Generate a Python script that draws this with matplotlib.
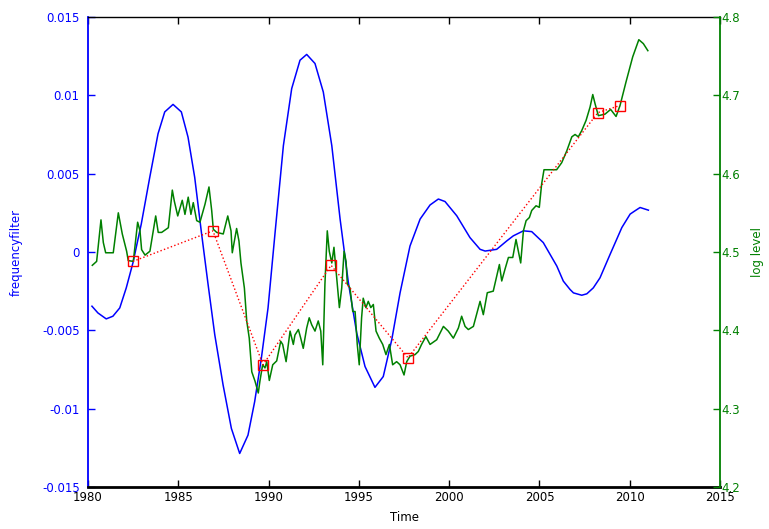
import matplotlib
matplotlib.use("Agg")
import matplotlib.pyplot as plt  # noqa: E402

# --- data ------------------------------------------------------------------
# band-pass ("frequency filter") component, left axis
filt_year = [1980.22, 1980.55, 1981.01, 1981.38, 1981.76, 1982.12, 1982.49, 1982.95,
             1983.42, 1983.88, 1984.25, 1984.71, 1985.17, 1985.54, 1985.91, 1986.27,
             1986.65, 1987.02, 1987.48, 1987.94, 1988.40, 1988.86, 1989.23, 1989.60,
             1989.97, 1990.36, 1990.82, 1991.28, 1991.74, 1992.11, 1992.57, 1993.03,
             1993.50, 1993.96, 1994.42, 1994.88, 1995.34, 1995.89, 1996.35, 1996.82,
             1997.28, 1997.83, 1998.39, 1998.94, 1999.40, 1999.77, 2000.42, 2001.15,
             2001.71, 2001.99, 2002.63, 2003.19, 2003.55, 2004.11, 2004.57, 2005.21,
             2005.96, 2006.32, 2006.69, 2006.88, 2007.34, 2007.62, 2007.98, 2008.35,
             2008.91, 2009.56, 2010.02, 2010.29, 2010.57, 2011.03]
filt_val = [-0.00346, -0.00389, -0.00427, -0.00410, -0.00357, -0.00229, -0.00069, 0.00178,
            0.00476, 0.00755, 0.00894, 0.00942, 0.00894, 0.00733, 0.00476, 0.00135,
            -0.00207, -0.00528, -0.00848, -0.01126, -0.01286, -0.01169, -0.00955, -0.00678,
            -0.00357, 0.00124, 0.00679, 0.01043, 0.01224, 0.01261, 0.01203, 0.01021,
            0.00679, 0.00210, -0.00197, -0.00517, -0.00731, -0.00864, -0.00795, -0.00560,
            -0.00261, 0.00038, 0.00210, 0.00300, 0.00338, 0.00322, 0.00231, 0.00092,
            0.00017, 0.00006, 0.00017, 0.00071, 0.00103, 0.00135, 0.00130, 0.00060,
            -0.00090, -0.00186, -0.00239, -0.00261, -0.00276, -0.00267, -0.00229, -0.00165,
            -0.00015, 0.00156, 0.00242, 0.00263, 0.00284, 0.00267]

# log level series, right axis
lvl_year = [1980.24, 1980.48, 1980.72, 1980.85, 1980.98, 1981.40, 1981.68, 1981.90, 1982.14,
            1982.23, 1982.51, 1982.75, 1982.88, 1982.97, 1983.16, 1983.43, 1983.75, 1983.89,
            1984.08, 1984.26, 1984.45, 1984.67, 1984.78, 1984.97, 1985.22, 1985.37, 1985.55,
            1985.70, 1985.83, 1986.02, 1986.20, 1986.48, 1986.70, 1986.85, 1986.94, 1987.13,
            1987.49, 1987.74, 1987.92, 1987.99, 1988.23, 1988.36, 1988.47, 1988.66, 1988.79,
            1988.93, 1989.07, 1989.25, 1989.43, 1989.52, 1989.67, 1989.80, 1989.90, 1990.04,
            1990.23, 1990.45, 1990.67, 1990.78, 1990.97, 1991.19, 1991.37, 1991.46, 1991.65,
            1991.78, 1991.92, 1992.11, 1992.25, 1992.39, 1992.57, 1992.75, 1992.89, 1993.00,
            1993.12, 1993.25, 1993.36, 1993.50, 1993.62, 1993.77, 1993.92, 1994.05, 1994.18,
            1994.29, 1994.36, 1994.51, 1994.66, 1994.79, 1994.91, 1995.02, 1995.15, 1995.24,
            1995.39, 1995.52, 1995.66, 1995.80, 1995.95, 1996.13, 1996.32, 1996.50, 1996.69,
            1996.87, 1997.09, 1997.28, 1997.50, 1997.65, 1997.83, 1998.11, 1998.29, 1998.47,
            1998.71, 1998.94, 1999.31, 1999.68, 1999.95, 2000.23, 2000.51, 2000.69, 2000.88,
            2001.06, 2001.34, 2001.71, 2001.89, 2002.11, 2002.44, 2002.78, 2002.91, 2003.09,
            2003.28, 2003.52, 2003.70, 2003.83, 2003.96, 2004.11, 2004.26, 2004.44, 2004.57,
            2004.81, 2004.99, 2005.12, 2005.25, 2005.95, 2006.23, 2006.51, 2006.79, 2006.97,
            2007.15, 2007.34, 2007.58, 2007.80, 2007.95, 2008.08, 2008.26, 2008.63, 2008.94,
            2009.24, 2009.46, 2009.79, 2010.16, 2010.50, 2010.75, 2011.00]
lvl_val = [4.483, 4.488, 4.541, 4.512, 4.499, 4.499, 4.550, 4.523, 4.501,
           4.489, 4.488, 4.538, 4.527, 4.503, 4.496, 4.501, 4.546, 4.525,
           4.525, 4.528, 4.531, 4.579, 4.565, 4.546, 4.566, 4.548, 4.570,
           4.548, 4.563, 4.540, 4.538, 4.561, 4.583, 4.553, 4.529, 4.525,
           4.523, 4.546, 4.527, 4.499, 4.530, 4.514, 4.486, 4.454, 4.412,
           4.390, 4.347, 4.335, 4.320, 4.335, 4.356, 4.352, 4.360, 4.336,
           4.356, 4.361, 4.386, 4.382, 4.360, 4.399, 4.382, 4.394, 4.401,
           4.390, 4.377, 4.403, 4.416, 4.407, 4.399, 4.412, 4.399, 4.356,
           4.459, 4.527, 4.501, 4.486, 4.506, 4.467, 4.429, 4.454, 4.501,
           4.488, 4.459, 4.454, 4.424, 4.424, 4.382, 4.356, 4.416, 4.441,
           4.429, 4.437, 4.429, 4.433, 4.399, 4.390, 4.382, 4.369, 4.382,
           4.356, 4.360, 4.356, 4.343, 4.360, 4.367, 4.369, 4.373, 4.382,
           4.392, 4.382, 4.388, 4.405, 4.399, 4.390, 4.403, 4.418, 4.405,
           4.401, 4.405, 4.437, 4.420, 4.448, 4.450, 4.484, 4.463, 4.478,
           4.493, 4.493, 4.516, 4.501, 4.486, 4.527, 4.540, 4.544, 4.553,
           4.559, 4.557, 4.587, 4.605, 4.605, 4.614, 4.629, 4.647, 4.650,
           4.647, 4.655, 4.668, 4.685, 4.701, 4.689, 4.674, 4.676, 4.682,
           4.673, 4.687, 4.717, 4.749, 4.771, 4.766, 4.757]

# turning points of the level series
turn_year = [1982.49, 1986.92, 1989.69, 1993.46, 1997.72, 2008.24, 2009.46]
turn_val = [4.488, 4.527, 4.356, 4.483, 4.365, 4.678, 4.687]

BLUE = "#0000ff"
GREEN = "#008000"
FS = 8.5

plt.rcParams["font.family"] = ["DejaVu Sans"]

fig = plt.figure(figsize=(7.69, 5.29), dpi=100)
ax = fig.add_axes([0.1144, 0.0794, 0.822, 0.8885])
ax.plot(filt_year, filt_val, color=BLUE, lw=1.1)
ax.set_xlim(1980, 2015)
ax.set_ylim(-0.015, 0.015)
ax.set_xticks(range(1980, 2016, 5))
ax.set_yticks([-0.015, -0.01, -0.005, 0, 0.005, 0.01, 0.015])
ax.set_yticklabels(["-0.015", "-0.01", "-0.005", "0", "0.005", "0.01", "0.015"])
ax.tick_params(axis="x", direction="in", length=5, width=1, top=True,
               labelsize=FS, colors="black", pad=3)
ax.tick_params(axis="y", direction="in", length=5, width=1, right=True,
               labelsize=FS, colors=BLUE, pad=6)
ax.spines["left"].set_color(BLUE)
ax.spines["left"].set_linewidth(1.3)
ax.spines["bottom"].set_linewidth(2)
ax.spines["top"].set_linewidth(1)
ax.spines["right"].set_visible(False)
ax.set_xlabel("Time", fontsize=FS, labelpad=5)
ax.set_ylabel("frequencyfilter", fontsize=FS, color=BLUE, labelpad=14)

ax2 = ax.twinx()
ax2.plot(lvl_year, lvl_val, color=GREEN, lw=1.1)
ax2.plot(turn_year, turn_val, color="red", ls=":", lw=1.0,
         marker="s", markersize=7.5, markerfacecolor="none",
         markeredgecolor="red", markeredgewidth=1.0)
ax2.set_ylim(4.2, 4.8)
ax2.set_yticks([4.2, 4.3, 4.4, 4.5, 4.6, 4.7, 4.8])
ax2.set_yticklabels(["4.2", "4.3", "4.4", "4.5", "4.6", "4.7", "4.8"])
ax2.tick_params(axis="y", direction="in", length=5, width=1,
                labelsize=FS, colors=GREEN, pad=1)
# a few right-side ticks show the left axis colour in the original
for t, v in zip(ax2.yaxis.get_major_ticks(), ax2.get_yticks()):
    if round(v, 1) in (4.3, 4.4, 4.7):
        t.tick2line.set_color(BLUE)
ax2.spines["right"].set_color(GREEN)
ax2.spines["right"].set_linewidth(1.3)
ax2.spines["left"].set_visible(False)
ax2.spines["top"].set_visible(False)
ax2.spines["bottom"].set_visible(False)
ax2.set_ylabel("log level", fontsize=FS, color=GREEN, labelpad=8)

fig.savefig("out.png", dpi=100)
